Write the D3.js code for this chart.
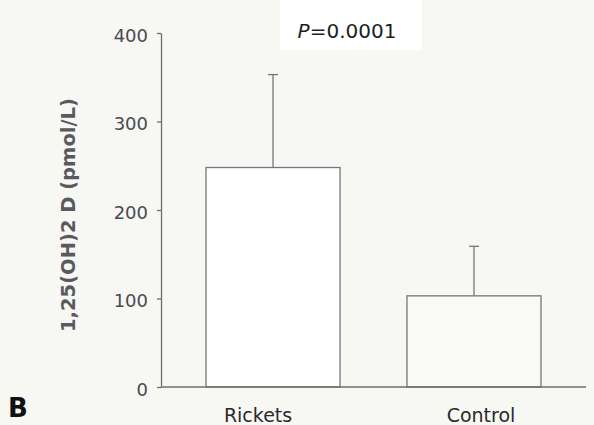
<!DOCTYPE html>
<html>
<head>
<meta charset="utf-8">
<script src="https://cdn.jsdelivr.net/npm/d3@7"></script>
<style>
  body { margin: 0; background: #f7f7f4; }
  svg { display: block; }
</style>
</head>
<body>
<div id="app"></div>
<script>
const width = 594,
  height = 425;

// data
const groups = ["Rickets", "Control"];
const means = [248, 103];
const upper = [353, 159]; // mean + SD
const yTicks = [0, 100, 200, 300, 400];
const pLabel = "0.0001";
const yTitle = "1,25(OH)2 D (pmol/L)";
const panel = "B";

const labelDx = [-15, 7];

const x0 = 161,
  x1 = 586;

const x = d3
  .scaleBand()
  .domain(groups)
  .range([x0, x1])
  .paddingInner(0.333)
  .paddingOuter(0.224);

const y = d3.scaleLinear().domain([0, 400]).range([387, 33]);

const svg = d3
  .select("#app")
  .append("svg")
  .attr("width", width)
  .attr("height", height);

svg
  .append("rect")
  .attr("width", width)
  .attr("height", height)
  .attr("fill", "#f7f7f4");

// white patch behind the p value
svg
  .append("rect")
  .attr("x", 280)
  .attr("y", 0)
  .attr("width", 142)
  .attr("height", 50)
  .attr("fill", "#ffffff");

// bars
svg
  .selectAll("rect.bar")
  .data(groups)
  .join("rect")
  .attr("class", "bar")
  .attr("x", (d) => x(d))
  .attr("y", (d, i) => y(means[i]))
  .attr("width", x.bandwidth())
  .attr("height", (d, i) => y(0) - y(means[i]))
  .attr("fill", (d, i) => (i === 0 ? "#ffffff" : "#f9f9f7"))
  .attr("stroke", "#76767a")
  .attr("stroke-width", 1.3);

// error bars (upper only)
const err = svg.append("g").attr("stroke", "#76767a").attr("stroke-width", 1.3);
groups.forEach((g, i) => {
  const cx = x(g) + x.bandwidth() / 2;
  err
    .append("line")
    .attr("x1", cx)
    .attr("x2", cx)
    .attr("y1", y(means[i]))
    .attr("y2", y(upper[i]));
  err
    .append("line")
    .attr("x1", cx - 5)
    .attr("x2", cx + 5)
    .attr("y1", y(upper[i]))
    .attr("y2", y(upper[i]));
});

// y axis
const yAxis = svg
  .append("g")
  .attr("transform", `translate(${x0},0)`)
  .call(d3.axisLeft(y).tickValues(yTicks).tickSize(4).tickPadding(9).tickSizeOuter(0));

yAxis.select(".domain").attr("stroke", "#6e6e72").attr("stroke-width", 1.3);
yAxis.selectAll(".tick line").attr("stroke", "#6e6e72").attr("stroke-width", 1.3);
yAxis
  .selectAll(".tick text")
  .attr("fill", "#4a4a4e")
  .attr("font-family", "DejaVu Sans, Verdana, sans-serif")
  .attr("font-size", 18)
  .attr("dy", "0.45em");

// baseline
svg
  .append("line")
  .attr("x1", x0)
  .attr("x2", x1)
  .attr("y1", y(0))
  .attr("y2", y(0))
  .attr("stroke", "#6e6e72")
  .attr("stroke-width", 1.3);

// category labels
svg
  .selectAll("text.cat")
  .data(groups)
  .join("text")
  .attr("class", "cat")
  .attr("x", (d, i) => x(d) + x.bandwidth() / 2 + labelDx[i])
  .attr("y", 422)
  .attr("text-anchor", "middle")
  .attr("font-family", "DejaVu Sans, Verdana, sans-serif")
  .attr("font-size", 19)
  .attr("fill", "#2a2a2a")
  .text((d) => d);

// y title
svg
  .append("text")
  .attr("transform", "translate(75,215) rotate(-90)")
  .attr("text-anchor", "middle")
  .attr("font-family", "DejaVu Sans, Verdana, sans-serif")
  .attr("font-weight", "bold")
  .attr("font-size", 19.5)
  .attr("fill", "#5a5a5e")
  .text(yTitle);

// p value
const p = svg
  .append("text")
  .attr("x", 347)
  .attr("y", 38)
  .attr("text-anchor", "middle")
  .attr("font-family", "DejaVu Sans, Verdana, sans-serif")
  .attr("font-size", 20)
  .attr("fill", "#1e1e1e");
p.append("tspan").attr("font-style", "italic").text("P");
p.append("tspan").text("=" + pLabel);

// panel letter
svg
  .append("text")
  .attr("x", 8)
  .attr("y", 417)
  .attr("font-family", "DejaVu Sans, Verdana, sans-serif")
  .attr("font-weight", "bold")
  .attr("font-size", 26)
  .attr("fill", "#111")
  .text(panel);
</script>
</body>
</html>
